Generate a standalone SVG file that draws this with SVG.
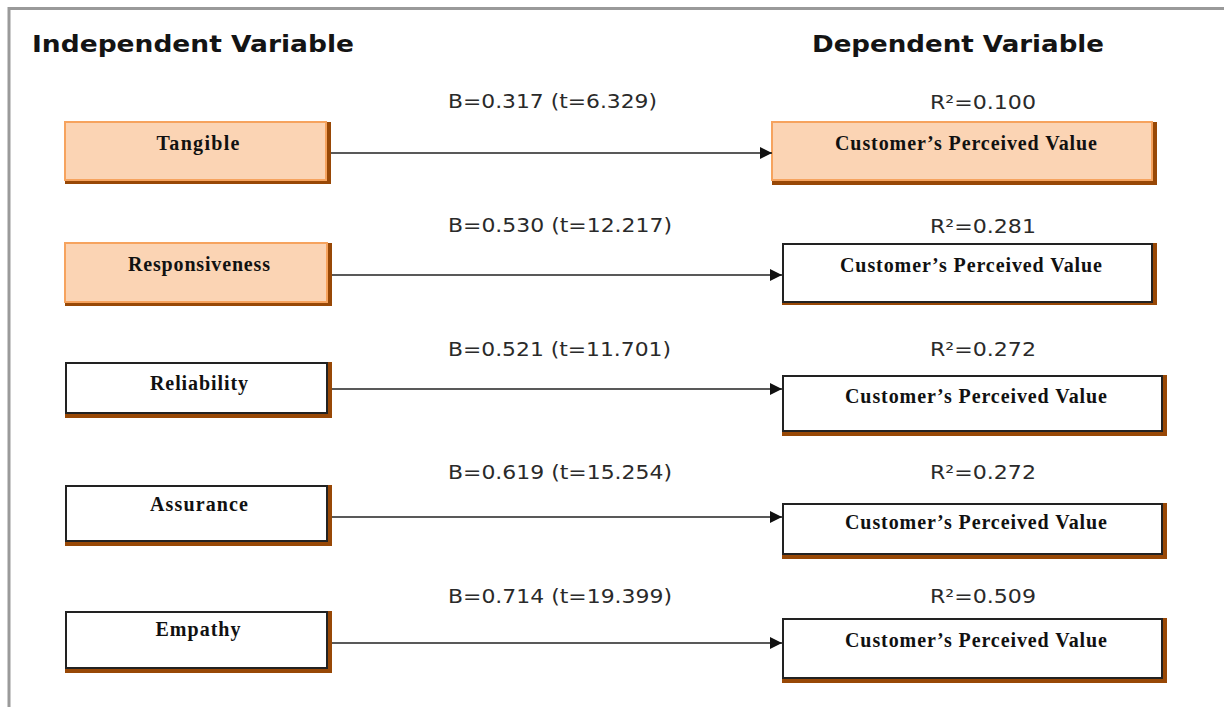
<svg xmlns="http://www.w3.org/2000/svg" width="1224" height="707" viewBox="0 0 1224 707">
<style>
.frame{fill:none;stroke:#9a9a9a;stroke-width:3}
.head{font-family:"DejaVu Sans",Verdana,sans-serif;font-weight:bold;font-size:23px;fill:#141414}
.lbl{font-family:"DejaVu Sans",Verdana,sans-serif;font-size:19px;fill:#2a2a2a}
.nt{font-family:"Liberation Serif","Times New Roman",serif;font-weight:bold;font-size:20px;fill:#111;text-anchor:middle}
.sh{fill:#984806}
.wb{fill:#fff;stroke:#222;stroke-width:2}
.pb{fill:#fbd4b4;stroke:#f6a35e;stroke-width:2}
.conn line{stroke:#222;stroke-width:1.6}
</style>
<defs>
<marker id="ah" viewBox="0 0 12 12" refX="12" refY="6" markerWidth="12" markerHeight="12" markerUnits="userSpaceOnUse" orient="auto">
<path d="M0,0 L12,6 L0,12 Z" fill="#111"/>
</marker>
</defs>
<rect width="1224" height="707" fill="#fff"/>
<path class="frame" d="M9,707 V8.5 H1224"/>
<text class="head" x="32" y="52" textLength="322" lengthAdjust="spacingAndGlyphs">Independent Variable</text>
<text class="head" x="812" y="52" textLength="292" lengthAdjust="spacingAndGlyphs">Dependent Variable</text>

<g id="tangible"><rect class="sh" x="65" y="122" width="266" height="62"/><rect class="pb" x="65" y="122" width="261" height="58"/><text class="nt" x="198" y="150" textLength="83" lengthAdjust="spacing">Tangible</text></g>
<g id="responsiveness"><rect class="sh" x="65" y="243" width="267" height="63"/><rect class="pb" x="65" y="243" width="262" height="59"/><text class="nt" x="199" y="271" textLength="142" lengthAdjust="spacing">Responsiveness</text></g>
<g id="reliability"><rect class="sh" x="65" y="362" width="267" height="56"/><rect class="wb" x="66" y="363" width="261" height="50"/><text class="nt" x="199" y="390" textLength="98" lengthAdjust="spacing">Reliability</text></g>
<g id="assurance"><rect class="sh" x="65" y="485" width="267" height="61"/><rect class="wb" x="66" y="486" width="261" height="55"/><text class="nt" x="199" y="511" textLength="98" lengthAdjust="spacing">Assurance</text></g>
<g id="empathy"><rect class="sh" x="65" y="611" width="267" height="62"/><rect class="wb" x="66" y="612" width="261" height="56"/><text class="nt" x="198" y="636" textLength="85" lengthAdjust="spacing">Empathy</text></g>

<g id="cpv1"><rect class="sh" x="772" y="122" width="385" height="63"/><rect class="pb" x="772" y="122" width="380" height="58"/><text class="nt" x="966" y="150" textLength="262" lengthAdjust="spacing">Customer’s Perceived Value</text></g>
<g id="cpv2"><rect class="sh" x="782" y="243" width="375" height="62"/><rect class="wb" x="783" y="244" width="369" height="58"/><text class="nt" x="971" y="272" textLength="262" lengthAdjust="spacing">Customer’s Perceived Value</text></g>
<g id="cpv3"><rect class="sh" x="782" y="375" width="385" height="61"/><rect class="wb" x="783" y="376" width="379" height="55"/><text class="nt" x="976" y="403" textLength="262" lengthAdjust="spacing">Customer’s Perceived Value</text></g>
<g id="cpv4"><rect class="sh" x="782" y="503" width="385" height="56"/><rect class="wb" x="783" y="504" width="379" height="50"/><text class="nt" x="976" y="529" textLength="262" lengthAdjust="spacing">Customer’s Perceived Value</text></g>
<g id="cpv5"><rect class="sh" x="782" y="618" width="385" height="65"/><rect class="wb" x="783" y="619" width="379" height="59"/><text class="nt" x="976" y="647" textLength="262" lengthAdjust="spacing">Customer’s Perceived Value</text></g>

<g id="connectors" class="conn">
<line x1="331" y1="153" x2="772" y2="153" marker-end="url(#ah)"/>
<line x1="332" y1="275" x2="782" y2="275" marker-end="url(#ah)"/>
<line x1="332" y1="389" x2="782" y2="389" marker-end="url(#ah)"/>
<line x1="332" y1="517" x2="782" y2="517" marker-end="url(#ah)"/>
<line x1="332" y1="643" x2="782" y2="643" marker-end="url(#ah)"/>
</g>

<g id="labels">
<text class="lbl" x="448" y="108" textLength="209" lengthAdjust="spacingAndGlyphs">B=0.317 (t=6.329)</text>
<text class="lbl" x="448" y="232" textLength="224" lengthAdjust="spacingAndGlyphs">B=0.530 (t=12.217)</text>
<text class="lbl" x="448" y="356" textLength="223" lengthAdjust="spacingAndGlyphs">B=0.521 (t=11.701)</text>
<text class="lbl" x="448" y="479" textLength="224" lengthAdjust="spacingAndGlyphs">B=0.619 (t=15.254)</text>
<text class="lbl" x="448" y="603" textLength="224" lengthAdjust="spacingAndGlyphs">B=0.714 (t=19.399)</text>
<text class="lbl" x="930" y="109" textLength="106" lengthAdjust="spacingAndGlyphs">R²=0.100</text>
<text class="lbl" x="930" y="233" textLength="106" lengthAdjust="spacingAndGlyphs">R²=0.281</text>
<text class="lbl" x="930" y="356" textLength="106" lengthAdjust="spacingAndGlyphs">R²=0.272</text>
<text class="lbl" x="930" y="479" textLength="106" lengthAdjust="spacingAndGlyphs">R²=0.272</text>
<text class="lbl" x="930" y="603" textLength="106" lengthAdjust="spacingAndGlyphs">R²=0.509</text>
</g>
</svg>
